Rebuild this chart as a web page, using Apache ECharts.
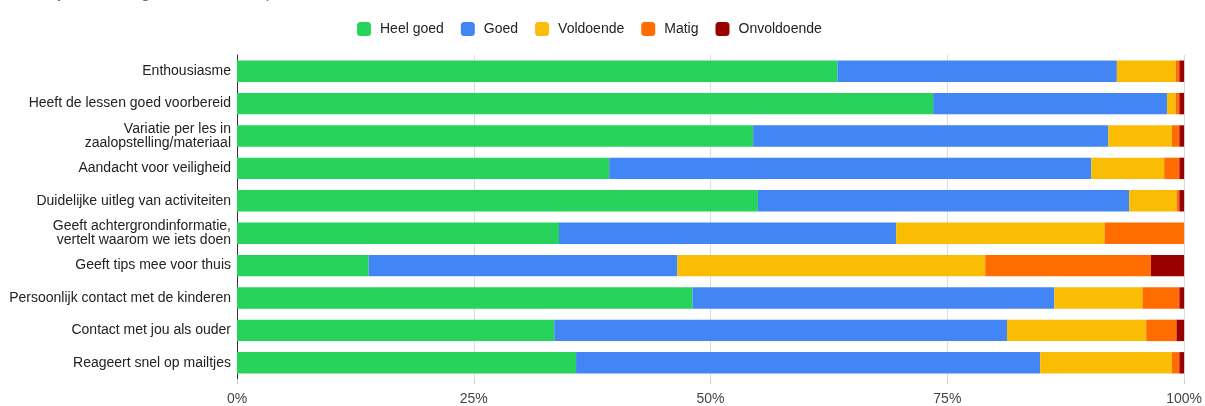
<!DOCTYPE html>
<html><head><meta charset="utf-8">
<script src="https://cdn.jsdelivr.net/npm/echarts@6/dist/echarts.min.js"></script>
<style>html,body{margin:0;padding:0;background:#fff}#c{width:1205px;height:406px}</style>
</head><body><div id="c"></div>
<script>
const categories = [
  "Enthousiasme",
  "Heeft de lessen goed voorbereid",
  "Variatie per les in\nzaalopstelling/materiaal",
  "Aandacht voor veiligheid",
  "Duidelijke uitleg van activiteiten",
  "Geeft achtergrondinformatie,\nvertelt waarom we iets doen",
  "Geeft tips mee voor thuis",
  "Persoonlijk contact met de kinderen",
  "Contact met jou als ouder",
  "Reageert snel op mailtjes"
];
const heelGoed    = [63.4, 73.5, 54.5, 39.3, 55.0, 34.0, 13.9, 48.1, 33.5, 35.8];
const goed        = [29.5, 24.7, 37.5, 50.9, 39.2, 35.6, 32.6, 38.2, 47.8, 49.0];
const voldoende   = [6.2, 0.9, 6.7, 7.7, 5.0, 22.0, 32.5, 9.3, 14.7, 13.9];
const matig       = [0.4, 0.4, 0.8, 1.6, 0.3, 8.4, 17.5, 3.9, 3.2, 0.8];
const onvoldoende = [0.5, 0.5, 0.5, 0.5, 0.5, 0.0, 3.5, 0.5, 0.8, 0.5];
const xTicks = ["0%", "25%", "50%", "75%", "100%"];

const seriesDefs = [
  {name: "Heel goed", data: heelGoed, color: "#27d35a"},
  {name: "Goed", data: goed, color: "#4285f4"},
  {name: "Voldoende", data: voldoende, color: "#fbbc04"},
  {name: "Matig", data: matig, color: "#ff6d01"},
  {name: "Onvoldoende", data: onvoldoende, color: "#990000"}
];

const chart = echarts.init(document.getElementById('c'));
chart.setOption({
  animation: false,
  textStyle: {fontFamily: "Liberation Sans, Arial, sans-serif"},
  title: {
    text: "Hoe zijn de trainingen beoordeeld op",
    left: 8, top: -19,
    textStyle: {fontSize: 16, fontWeight: "normal", color: "#757575", fontFamily: "Liberation Sans, Arial, sans-serif"}
  },
  legend: {
    top: 17, left: 352,
    itemWidth: 14, itemHeight: 14, itemGap: 17,
    icon: "roundRect",
    textStyle: {fontSize: 14, color: "#222", padding: [0, 0, 0, 4]},
    data: seriesDefs.map(s => s.name)
  },
  grid: {left: 237, right: 17, top: 55, bottom: 25, containLabel: false},
  xAxis: {
    type: "value", min: 0, max: 100, interval: 25,
    axisLabel: {
      color: "#444", fontSize: 14, margin: 13,
      formatter: v => xTicks[Math.round(v / 25)]
    },
    axisLine: {show: false},
    axisTick: {show: true, length: 5, lineStyle: {color: "#ccc"}},
    splitLine: {show: true, lineStyle: {color: "#ddd", width: 1}}
  },
  yAxis: {
    type: "category", inverse: true, data: categories,
    axisLine: {show: true, onZero: false, lineStyle: {color: "#333", width: 1}},
    axisTick: {show: false},
    axisLabel: {color: "#222", fontSize: 14, lineHeight: 14, margin: 6, align: "right"}
  },
  series: seriesDefs.map(s => ({
    name: s.name, type: "bar", stack: "total", data: s.data,
    barWidth: "66%",
    itemStyle: {color: s.color},
    emphasis: {disabled: true}
  }))
});
</script></body></html>
